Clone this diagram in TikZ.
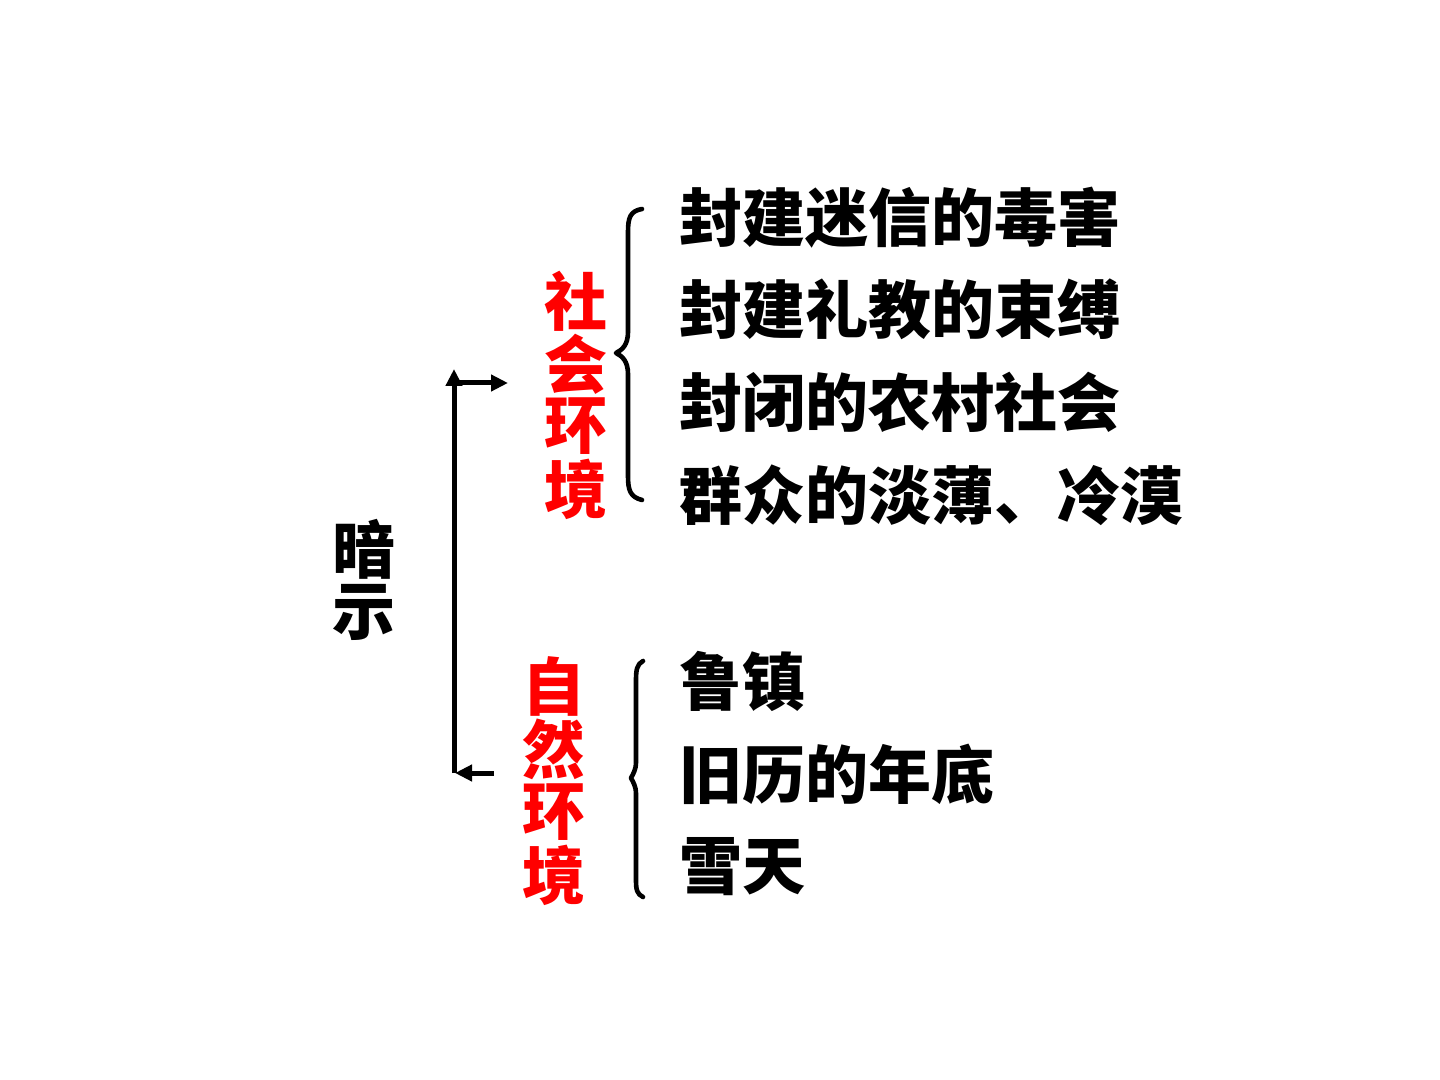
\documentclass[tikz,border=0pt]{standalone}
\usepackage{fontspec}
\newfontfamily\cjk{Noto Sans CJK SC}
\usetikzlibrary{arrows.meta}
\begin{document}
\begin{tikzpicture}[x=0.5pt,y=-0.5pt,
  every node/.style={inner sep=0pt,outer sep=0pt,font=\cjk\bfseries\fontsize{31.5}{31.5}\selectfont},
  item/.style={anchor=west,text=black},
  redchar/.style={anchor=center,text=red},
  blkchar/.style={anchor=center,text=black},
  conn/.style={line width=2.5pt,draw=black},
  tip/.style={-{Triangle[length=8.5pt,width=8pt]}},
  bracestyle/.style={line width=2.3pt,draw=black,line cap=round,line join=round}]
\useasboundingbox (0,0) rectangle (1440,1080);
% left label
\node[blkchar] (h1) at (364,549) {暗};
\node[blkchar] (h2) at (364,612) {示};
% red labels
\node[redchar] (a1) at (576,301) {社};
\node[redchar] (a2) at (576,364) {会};
\node[redchar] (a3) at (576,426) {环};
\node[redchar] (a4) at (576,489) {境};
\node[redchar] (b1) at (554,686) {自};
\node[redchar] (b2) at (554,749) {然};
\node[redchar] (b3) at (554,812) {环};
\node[redchar] (b4) at (554,875) {境};
% items
\node[item] (t1) at (679,218) {封建迷信的毒害};
\node[item] (t2) at (679,309) {封建礼教的束缚};
\node[item] (t3) at (679,402) {封闭的农村社会};
\node[item] (t4) at (679,495) {群众的淡薄、冷漠};
\node[item] (n1) at (679,681) {鲁镇};
\node[item] (n2) at (679,774) {旧历的年底};
\node[item] (n3) at (679,867) {雪天};
% connectors
\coordinate (cb) at (454,773);
\coordinate (ct) at (454,369);
\coordinate (cm) at (454,383);
\coordinate (ar) at (508,383);
\coordinate (bs) at (494,773);
\draw[conn,tip] (cb) -- (ct);
\draw[conn,tip] (cm) -- (ar);
\draw[conn,tip] (bs) -- (455,773);
% braces
\draw[bracestyle] (642,209) .. controls (630,211) and (628,218) .. (628,232)
  -- (628,332) .. controls (628,345) and (622,350) .. (616,353)
  .. controls (622,356) and (628,361) .. (628,374)
  -- (628,476) .. controls (628,490) and (630,497) .. (642,500);
\draw[bracestyle] (643,661) .. controls (637,664) and (636,670) .. (636,680)
  -- (636,762) .. controls (636,770) and (633,774) .. (631,778)
  .. controls (633,782) and (636,786) .. (636,794)
  -- (636,880) .. controls (636,890) and (637,894) .. (643,897);
\end{tikzpicture}
\end{document}
